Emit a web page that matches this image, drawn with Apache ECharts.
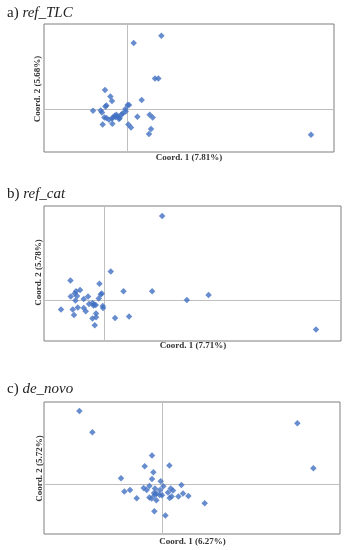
<!DOCTYPE html>
<html><head><meta charset="utf-8">
<script src="https://cdn.jsdelivr.net/npm/echarts@6/dist/echarts.min.js"></script>
<style>html,body{margin:0;padding:0;background:#fff}#c{width:350px;height:550px}</style>
</head><body><div id="c"></div>
<script>
// Panel titles and axis names
const panelLetters = ['a)', 'b)', 'c)'];
const panelNames = ['ref_TLC', 'ref_cat', 'de_novo'];
const xNames = ['Coord. 1 (7.81%)', 'Coord. 1 (7.71%)', 'Coord. 1 (6.27%)'];
const yNames = ['Coord. 2 (5.68%)', 'Coord. 2 (5.78%)', 'Coord. 2 (5.72%)'];

// Panel a) ref_TLC  [coord1, coord2]
const refTLC = [
  [0.34,0.74],[0.063,0.667],[0.276,0.313],[0.31,0.313],[-0.224,0.197],[-0.17,0.133],
  [-0.154,0.087],[0.143,0.097],[-0.21,0.043],[-0.22,0.033],[0.003,0.047],[0.016,0.047],
  [-0.344,-0.01],[-0.267,-0.007],[-0.254,-0.027],[-0.02,0.007],[-0.017,-0.017],
  [-0.047,-0.037],[-0.06,-0.047],[-0.11,-0.05],[-0.127,-0.06],[-0.094,-0.067],[-0.117,-0.073],
  [-0.077,-0.083],[-0.084,-0.093],[-0.144,-0.077],[-0.154,-0.087],[-0.23,-0.077],[-0.21,-0.083],
  [-0.184,-0.1],[0.1,-0.07],[0.223,-0.05],[0.253,-0.077],[-0.247,-0.147],[-0.15,-0.14],
  [0.01,-0.147],[0.036,-0.177],[0.236,-0.193],[0.216,-0.243],[1.836,-0.25]
];
// Panel b) ref_cat
const refCat = [
  [0.583,0.84],[0.07,0.287],[-0.333,0.197],[-0.043,0.163],[0.197,0.09],[0.483,0.09],
  [1.047,0.053],[0.83,0.003],[-0.237,0.103],[-0.277,0.09],[-0.33,0.037],[-0.267,0.043],
  [-0.283,-0.003],[-0.157,0.037],[-0.2,0.013],[-0.05,0.017],[-0.03,0.057],[-0.02,0.067],
  [-0.427,-0.093],[-0.31,-0.093],[-0.26,-0.073],[-0.297,-0.147],[-0.2,-0.077],[-0.18,-0.11],
  [-0.147,-0.037],[-0.113,-0.027],[-0.097,-0.043],[-0.08,-0.047],[-0.103,-0.053],[-0.01,-0.057],
  [-0.007,-0.077],[-0.077,-0.133],[-0.077,-0.17],[-0.113,-0.183],[-0.09,-0.25],[0.113,-0.177],
  [0.253,-0.163],[2.12,-0.293],[-0.29,0.067]
];
// Panel c) de_novo
const deNovo = [
  [-0.83,0.733],[-0.7,0.52],[1.35,0.61],[1.51,0.16],[-0.104,0.287],[0.07,0.187],
  [-0.177,0.18],[-0.09,0.12],[-0.414,0.06],[-0.104,0.053],[-0.017,0.03],[0.19,-0.007],
  [0.01,-0.02],[-0.13,-0.017],[-0.187,-0.037],[-0.157,-0.057],[-0.074,-0.043],[-0.024,-0.057],
  [0.083,-0.043],[0.106,-0.063],[0.056,-0.083],[0.206,-0.093],[0.26,-0.117],[0.16,-0.123],
  [0.093,-0.123],[0.073,-0.137],[-0.004,-0.11],[-0.027,-0.107],[-0.06,-0.093],[-0.077,-0.11],
  [-0.084,-0.087],[-0.13,-0.133],[-0.107,-0.143],[-0.06,-0.16],[-0.257,-0.14],[-0.38,-0.073],
  [-0.324,-0.057],[0.423,-0.19],[-0.08,-0.27],[0.03,-0.313]
];
// Axis extents per panel
const xMin = [-0.834, -0.597, -1.184];
const xMax = [2.066, 2.37, 1.776];
const yMin = [-0.423, -0.407, -0.497];
const yMax = [0.857, 0.94, 0.823];

const datasets = [refTLC, refCat, deNovo];
const grids = [
  {left:44, top:24, width:290, height:128},
  {left:44, top:206, width:297, height:135},
  {left:44, top:402, width:296, height:132}
];
const titleY = [14, 195, 390];
const xNameY = [157.5, 346, 541.5];
const xNameX = [189, 193, 192.5];
const yNameY = [89, 272.5, 468.5];
const yNameX = [38, 39, 39.5];

const option = {
  animation:false,
  grid: grids.map(g => Object.assign({show:true, borderColor:'#7f7f7f', borderWidth:1, backgroundColor:'#fff'}, g)),
  xAxis: grids.map((g,i)=>({
    type:'value', gridIndex:i, min:xMin[i], max:xMax[i],
    splitLine:{show:false}, axisTick:{show:false}, axisLabel:{show:false},
    axisLine:{show:true, onZero:true, lineStyle:{color:'#bfbfbf', width:1}}
  })),
  yAxis: grids.map((g,i)=>({
    type:'value', gridIndex:i, min:yMin[i], max:yMax[i],
    splitLine:{show:false}, axisTick:{show:false}, axisLabel:{show:false},
    axisLine:{show:true, onZero:true, lineStyle:{color:'#bfbfbf', width:1}}
  })),
  series: datasets.map((d,i)=>({
    type:'scatter', xAxisIndex:i, yAxisIndex:i, data:d,
    symbol:'diamond', symbolSize:6.5, itemStyle:{color:'#4170c2'}
  })),
  graphic: [].concat(
    panelLetters.map((l,i)=>({
      type:'text', left:7, top:titleY[i]-8.5,
      style:{ text:'{u|'+l+' }{i|'+panelNames[i]+'}',
        rich:{ u:{fontFamily:'Liberation Serif', fontSize:15, fill:'#222'},
               i:{fontFamily:'Liberation Serif', fontSize:15, fontStyle:'italic', fill:'#222'} } }
    })),
    xNames.map((t,i)=>({
      type:'text', x:xNameX[i], y:xNameY[i],
      style:{text:t, fontFamily:'Liberation Serif', fontWeight:'bold', fontSize:9, fill:'#333',
        align:'center', verticalAlign:'middle'}
    })),
    yNames.map((t,i)=>({
      type:'text', x:yNameX[i], y:yNameY[i], rotation:Math.PI/2,
      style:{text:t, fontFamily:'Liberation Serif', fontWeight:'bold', fontSize:9, fill:'#333',
        align:'center', verticalAlign:'middle'}
    }))
  )
};
echarts.init(document.getElementById('c'), null, {renderer:'canvas'}).setOption(option);
</script></body></html>
